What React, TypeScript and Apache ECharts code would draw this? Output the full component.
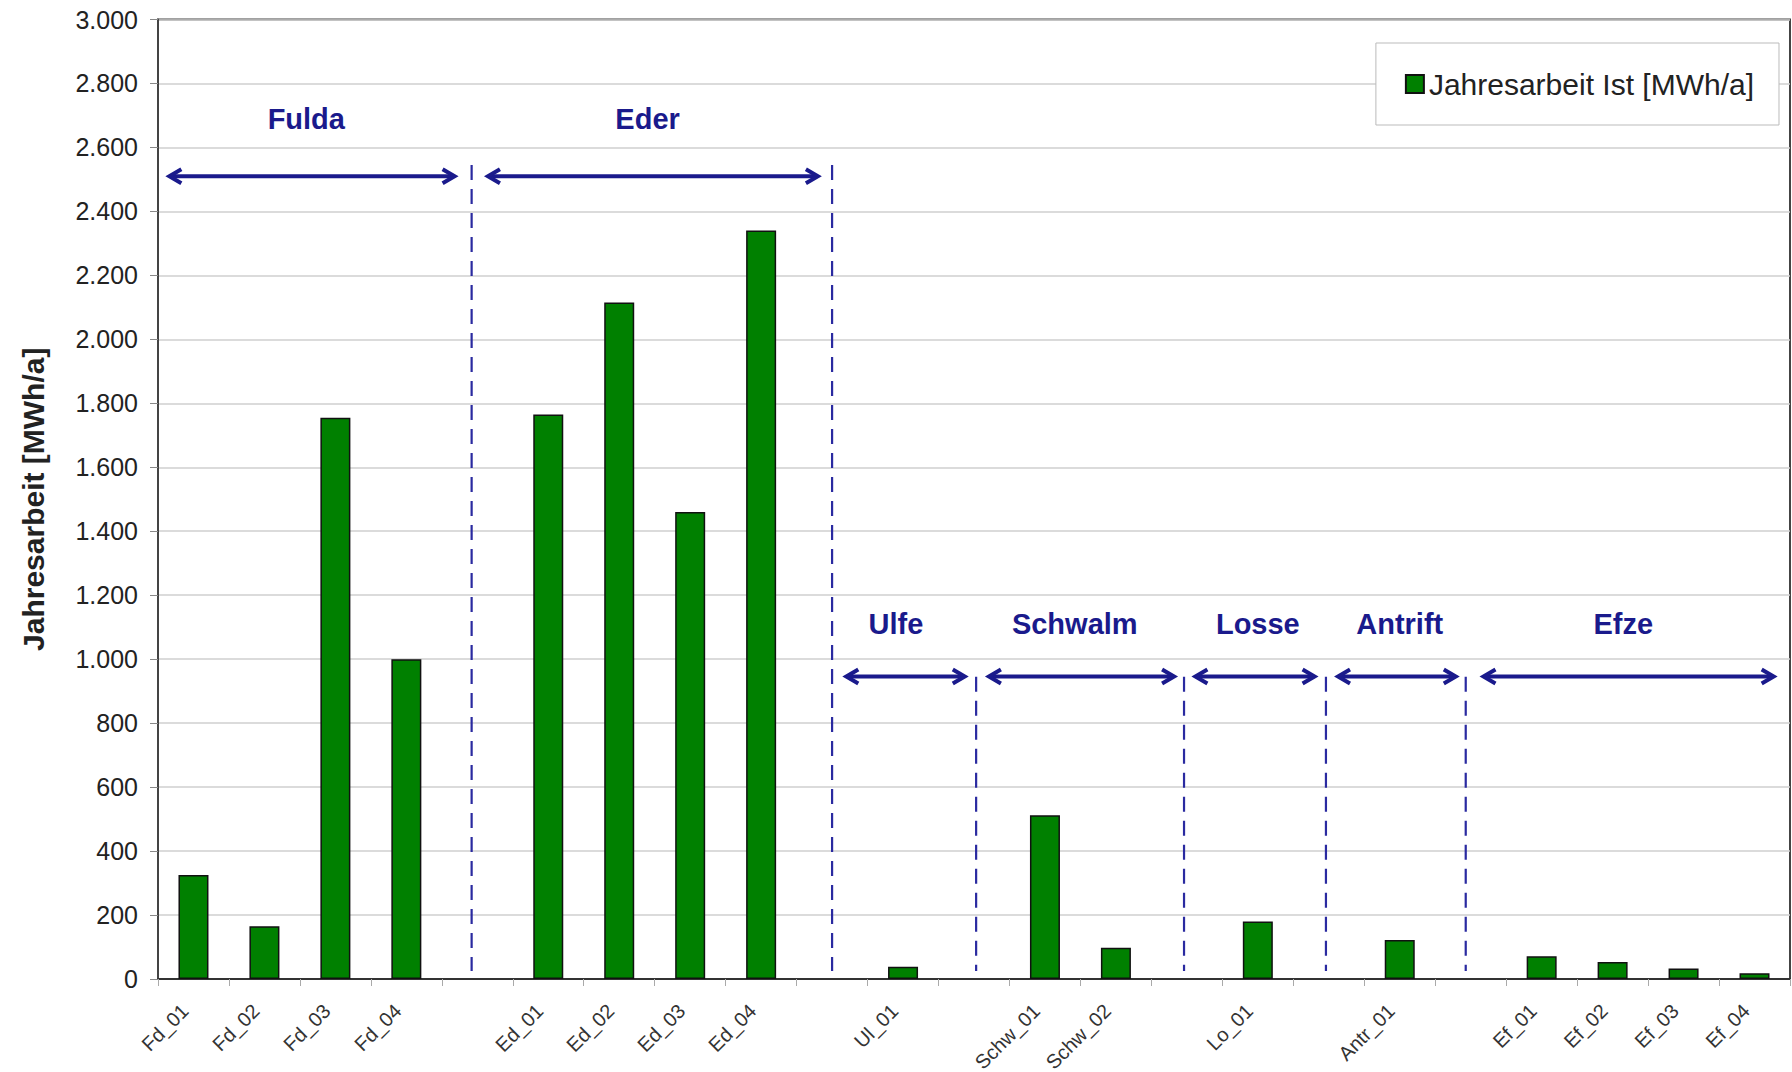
import React, { useEffect, useRef } from "react";
import * as echarts from "echarts";

// Stations along the x axis; empty strings are spacer slots between river groups
const categories = [
  "Fd_01", "Fd_02", "Fd_03", "Fd_04", "",
  "Ed_01", "Ed_02", "Ed_03", "Ed_04", "",
  "Ul_01", "",
  "Schw_01", "Schw_02", "",
  "Lo_01", "",
  "Antr_01", "",
  "Ef_01", "Ef_02", "Ef_03", "Ef_04",
];

// Annual energy yield in MWh/a (null for spacer slots)
const jahresarbeit = [
  325, 165, 1755, 1000, null,
  1765, 2115, 1460, 2340, null,
  38, null,
  512, 98, null,
  180, null,
  122, null,
  71, 53, 33, 18,
];

// River group annotations (x in category units, y in MWh/a)
const groupNames = ["Fulda", "Eder", "Ulfe", "Schwalm", "Losse", "Antrift", "Efze"];
const groupLabelX = [1.59, 6.4, 9.9, 12.42, 15.0, 17.0, 20.15];
const groupLabelY = [2690, 2690, 1110, 1110, 1110, 1110, 1110];
const arrowFrom = [-0.34, 4.15, 9.2, 11.21, 14.12, 16.13, 18.18];
const arrowTo = [3.68, 8.8, 10.87, 13.82, 15.8, 17.79, 22.27];
const arrowY = [2510, 2510, 946, 946, 946, 946, 946];

// Dashed separators between the groups
const dividerX = [3.92, 9.0, 11.03, 13.96, 15.96, 17.93];
const dividerTop = [2545, 2545, 945, 945, 945, 945];
const dividerBottom = [25, 25, 25, 25, 25, 25];

const NAVY = "#1a1a8c";
const FONT = "'Liberation Sans', Arial, sans-serif";

const fmtThousands = (v: number) =>
  String(Math.round(v)).replace(/\B(?=(\d{3})+(?!\d))/g, ".");

export default function App() {
  const ref = useRef<HTMLDivElement>(null);

  useEffect(() => {
    document.body.style.margin = "0";
    if (!ref.current) return;
    const chart = echarts.init(ref.current, undefined, { renderer: "svg" });

    const arrowData = groupNames.map((_, i) => [arrowFrom[i], arrowTo[i], arrowY[i]]);
    const dividerData = dividerX.map((x, i) => [x, dividerTop[i], dividerBottom[i]]);
    const labelData = groupNames.map((n, i) => [groupLabelX[i], groupLabelY[i], n]);

    chart.setOption({
      animation: false,
      backgroundColor: "#fff",
      textStyle: { fontFamily: FONT },
      grid: {
        left: 158,
        right: 2,
        top: 19.5,
        bottom: 93,
        containLabel: false,
        outerBoundsMode: "none",
        show: true,
        borderColor: "#444",
        borderWidth: 2,
        backgroundColor: "transparent",
      },
      legend: {
        right: 13,
        top: 43,
        icon: "rect",
        itemWidth: 18,
        itemHeight: 18,
        backgroundColor: "#fff",
        borderColor: "#bbb",
        borderWidth: 1,
        padding: [26, 25, 26, 29],
        textStyle: { fontSize: 30, color: "#222", fontFamily: FONT },
        data: ["Jahresarbeit Ist [MWh/a]"],
      },
      xAxis: [
        {
          type: "category",
          data: categories,
          axisLine: { lineStyle: { color: "#333", width: 2 } },
          axisTick: { show: true, alignWithLabel: false, length: 7, lineStyle: { color: "#aaa" } },
          axisLabel: {
            interval: 0,
            rotate: 45,
            fontSize: 20,
            color: "#333",
            margin: 20,
            padding: [0, 12, 0, 0],
            fontFamily: FONT,
          },
          splitLine: { show: false },
        },
        {
          type: "value",
          min: -0.5,
          max: 22.5,
          show: false,
        },
      ],
      yAxis: {
        type: "value",
        min: 0,
        max: 3000,
        interval: 200,
        name: "Jahresarbeit [MWh/a]",
        nameLocation: "middle",
        nameGap: 110,
        nameTextStyle: { fontSize: 30, fontWeight: "bold", color: "#222", fontFamily: FONT },
        axisLine: { show: true, onZero: false, lineStyle: { color: "#444", width: 2 } },
        axisTick: { show: true, length: 8, lineStyle: { color: "#888" } },
        axisLabel: {
          fontSize: 25,
          color: "#222",
          margin: 20,
          fontFamily: FONT,
          formatter: (v: number) => fmtThousands(v),
        },
        splitLine: { lineStyle: { color: "#cfcfcf", width: 1.5 } },
      },
      series: [
        {
          name: "Jahresarbeit Ist [MWh/a]",
          type: "bar",
          data: jahresarbeit,
          barWidth: 30,
          itemStyle: { color: "#008000", borderColor: "#111", borderWidth: 1.5 },
          z: 3,
        },
        {
          name: "dividers",
          type: "custom",
          xAxisIndex: 1,
          yAxisIndex: 0,
          silent: true,
          z: 4,
          data: dividerData,
          renderItem: (_p: any, api: any) => {
            const top = api.coord([api.value(0), api.value(1)]);
            const bot = api.coord([api.value(0), api.value(2)]);
            return {
              type: "line",
              shape: { x1: top[0], y1: top[1], x2: bot[0], y2: bot[1] },
              style: { stroke: "#2a2aa0", lineWidth: 2.2, lineDash: [15, 9] },
            };
          },
        },
        {
          name: "arrows",
          type: "custom",
          xAxisIndex: 1,
          yAxisIndex: 0,
          silent: true,
          z: 4,
          data: arrowData,
          renderItem: (_p: any, api: any) => {
            const a = api.coord([api.value(0), api.value(2)]);
            const b = api.coord([api.value(1), api.value(2)]);
            const hl = 12;
            const hw = 7;
            const style = { stroke: NAVY, lineWidth: 4, fill: "none", lineJoin: "miter" };
            return {
              type: "group",
              children: [
                { type: "line", shape: { x1: a[0] + 2, y1: a[1], x2: b[0] - 2, y2: b[1] }, style },
                {
                  type: "polyline",
                  shape: { points: [[a[0] + hl, a[1] - hw], [a[0], a[1]], [a[0] + hl, a[1] + hw]] },
                  style,
                },
                {
                  type: "polyline",
                  shape: { points: [[b[0] - hl, b[1] - hw], [b[0], b[1]], [b[0] - hl, b[1] + hw]] },
                  style,
                },
              ],
            };
          },
        },
        {
          name: "groupLabels",
          type: "custom",
          xAxisIndex: 1,
          yAxisIndex: 0,
          silent: true,
          z: 5,
          data: labelData,
          renderItem: (p: any, api: any) => {
            const pt = api.coord([api.value(0), api.value(1)]);
            return {
              type: "text",
              x: pt[0],
              y: pt[1],
              style: {
                text: labelData[p.dataIndex][2],
                fill: NAVY,
                font: `bold 29px ${FONT}`,
                align: "center",
                verticalAlign: "middle",
              },
            };
          },
        },
      ],
    });

    return () => chart.dispose();
  }, []);

  return <div ref={ref} style={{ width: 1792, height: 1072 }} />;
}
